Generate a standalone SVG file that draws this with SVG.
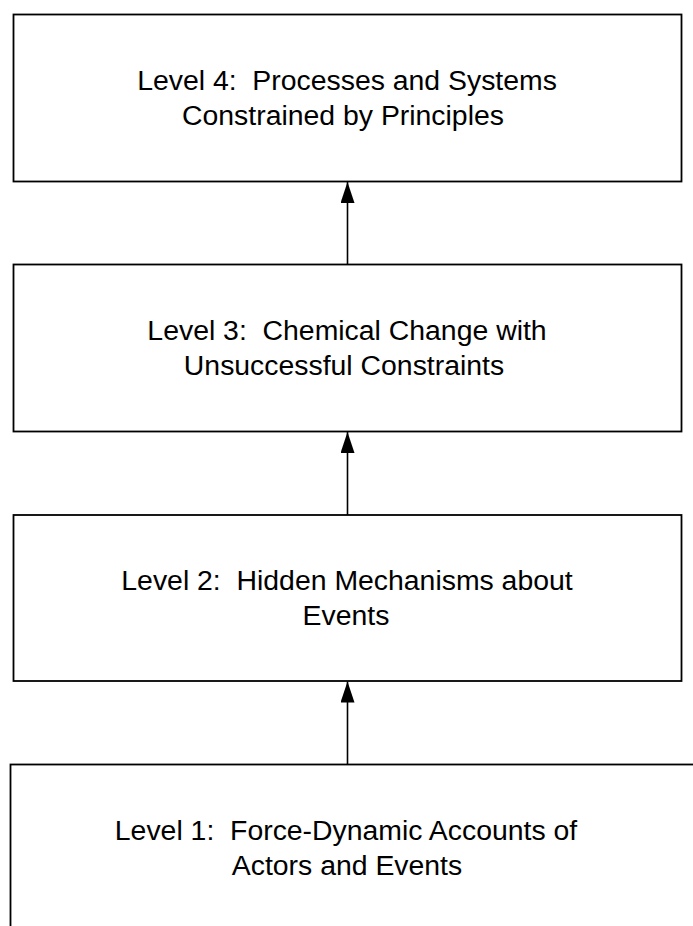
<svg xmlns="http://www.w3.org/2000/svg" width="693" height="926" viewBox="0 0 693 926">
  <style>
    .box { fill: #ffffff; stroke: #000000; stroke-width: 1.8; }
    .label { font-family: "Liberation Sans", Arial, sans-serif; font-size: 28.4px; fill: #000000; text-anchor: middle; white-space: pre; }
    .link { stroke: #000000; stroke-width: 1.6; fill: none; marker-end: url(#head); }
  </style>
  <defs>
    <marker id="head" markerUnits="userSpaceOnUse" markerWidth="21" markerHeight="14" refX="21" refY="7" orient="auto" viewBox="0 0 21 14">
      <polygon points="0,0 21,7 0,14" fill="#000000"/>
    </marker>
  </defs>
  <rect width="693" height="926" fill="#ffffff"/>

  <g id="level4">
    <rect class="box" x="13.5" y="14.5" width="668" height="167"/>
    <text class="label" x="347" y="90" xml:space="preserve">Level 4:  Processes and Systems</text>
    <text class="label" x="343" y="125">Constrained by Principles</text>
  </g>

  <g id="level3">
    <rect class="box" x="13.5" y="264.5" width="668" height="167"/>
    <text class="label" x="347" y="340" xml:space="preserve">Level 3:  Chemical Change with</text>
    <text class="label" x="344" y="375">Unsuccessful Constraints</text>
  </g>

  <g id="level2">
    <rect class="box" x="13.5" y="515" width="668" height="166"/>
    <text class="label" x="347" y="590" xml:space="preserve">Level 2:  Hidden Mechanisms about</text>
    <text class="label" x="346" y="625">Events</text>
  </g>

  <g id="level1">
    <rect class="box" x="10.5" y="764.5" width="700" height="200"/>
    <text class="label" x="346" y="840" xml:space="preserve">Level 1:  Force-Dynamic Accounts of</text>
    <text class="label" x="347" y="875">Actors and Events</text>
  </g>

  <g id="connectors">
    <line class="link" x1="347.5" y1="264.5" x2="347.5" y2="182"/>
    <line class="link" x1="347.5" y1="515" x2="347.5" y2="432"/>
    <line class="link" x1="347.5" y1="764.5" x2="347.5" y2="681.5"/>
  </g>
</svg>
